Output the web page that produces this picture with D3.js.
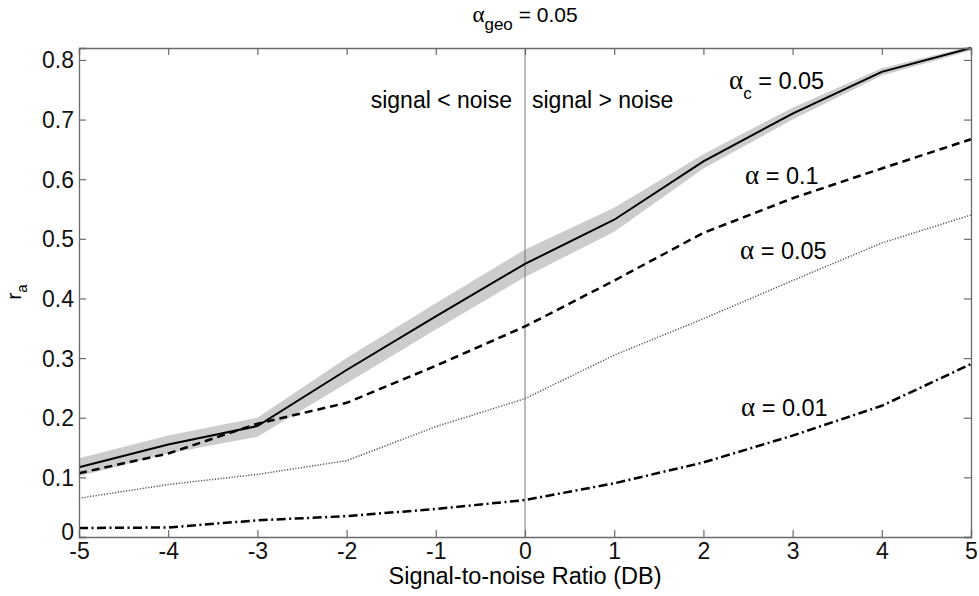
<!DOCTYPE html>
<html>
<head>
<meta charset="utf-8">
<script src="https://cdn.jsdelivr.net/npm/d3@7"></script>
<style>
  body { margin: 0; background: #fff; }
  svg { display: block; font-family: "Liberation Sans", Arial, sans-serif; }
  .greek { font-family: "Liberation Serif", "DejaVu Serif", serif; }
</style>
</head>
<body>
<script>
// data
const snr = [-5, -4, -3, -2, -1, 0, 1, 2, 3, 4, 5]
const alphaC = [0.117, 0.155, 0.186, 0.28, 0.37, 0.458, 0.532, 0.63, 0.71, 0.78, 0.82]
const bandUpper = [0.132, 0.17, 0.2, 0.3, 0.392, 0.482, 0.552, 0.642, 0.72, 0.786, 0.823]
const bandLower = [0.102, 0.14, 0.168, 0.258, 0.348, 0.436, 0.512, 0.618, 0.7, 0.774, 0.816]
const alpha010 = [0.107, 0.14, 0.19, 0.225, 0.287, 0.353, 0.43, 0.51, 0.568, 0.618, 0.667]
const alpha005 = [0.065, 0.088, 0.105, 0.128, 0.185, 0.232, 0.305, 0.366, 0.43, 0.493, 0.54]
const alpha001 = [0.015, 0.016, 0.028, 0.035, 0.047, 0.062, 0.09, 0.125, 0.17, 0.22, 0.29]
const xTicks = [-5, -4, -3, -2, -1, 0, 1, 2, 3, 4, 5]
const yTicks = [0, 0.1, 0.2, 0.3, 0.4, 0.5, 0.6, 0.7, 0.8]

const width = 979, height = 596
const margin = {left: 79, right: 8, top: 48, bottom: 59}

const svg = d3.select('body').append('svg')
  .attr('width', width)
  .attr('height', height)

const x = d3.scaleLinear().domain([-5, 5]).range([margin.left, width - margin.right])
const y = d3.scaleLinear().domain([0, 0.82]).range([height - margin.bottom, margin.top])

const axisColor = '#6a6a6a'

// gray band around the alpha_c line
const area = d3.area()
  .x((d, i) => x(snr[i]))
  .y0((d, i) => y(bandLower[i]))
  .y1((d, i) => y(bandUpper[i]))
svg.append('path')
  .attr('d', area(snr))
  .attr('fill', '#cccccc')

// vertical divider at 0 dB
svg.append('line')
  .attr('x1', x(0)).attr('x2', x(0))
  .attr('y1', y(0.82)).attr('y2', y(0))
  .attr('stroke', '#777').attr('stroke-width', 1)

const line = d3.line().x((d, i) => x(snr[i])).y(d => y(d))

const series = [
  {vals: alpha001, dash: '9,3.5,2,3.5', w: 2.5, col: '#000'},
  {vals: alpha005, dash: '1.2,1.6', w: 1.5, col: '#555'},
  {vals: alpha010, dash: '8,5', w: 2.5, col: '#000'},
  {vals: alphaC, dash: null, w: 2, col: '#000'}
]
series.forEach(s => {
  svg.append('path')
    .attr('d', line(s.vals))
    .attr('fill', 'none')
    .attr('stroke', s.col)
    .attr('stroke-width', s.w)
    .attr('stroke-dasharray', s.dash)
})

// axes box with inward ticks, matlab style
const gx = svg.append('g')
  .attr('transform', `translate(0,${y(0)})`)
  .call(d3.axisBottom(x).tickValues(xTicks).tickSize(-7).tickPadding(6).tickFormat(d => String(d)))
const gxTop = svg.append('g')
  .attr('transform', `translate(0,${y(0.82)})`)
  .call(d3.axisTop(x).tickValues(xTicks).tickSize(-7).tickFormat(''))
const gy = svg.append('g')
  .attr('transform', `translate(${x(-5)},0)`)
  .call(d3.axisLeft(y).tickValues(yTicks).tickSize(-7).tickPadding(5).tickFormat(d => d === 0 ? '0' : d3.format('.1f')(d)))
const gyRight = svg.append('g')
  .attr('transform', `translate(${x(5)},0)`)
  .call(d3.axisRight(y).tickValues(yTicks).tickSize(-7).tickFormat(''))

;[gx, gxTop, gy, gyRight].forEach(g => {
  g.select('.domain').attr('stroke', axisColor).attr('stroke-width', 1.3)
  g.selectAll('.tick line').attr('stroke', axisColor).attr('stroke-width', 1.2)
  g.selectAll('.tick text').attr('fill', '#111')
    .style('font-family', '"Liberation Sans", Arial, sans-serif')
    .style('font-size', '23px')
})
gy.selectAll('.tick text').attr('dy', d => d === 0 ? '0.1em' : '0.35em')

// axis labels
svg.append('text')
  .attr('x', x(0)).attr('y', 584)
  .attr('text-anchor', 'middle')
  .style('font-size', '23.5px')
  .text('Signal-to-noise Ratio (DB)')

const yl = svg.append('text')
  .attr('transform', `translate(21,292) rotate(-90)`)
  .attr('text-anchor', 'middle')
  .style('font-size', '21px')
yl.append('tspan').text('r')
yl.append('tspan').attr('dy', 6).style('font-size', '15px').text('a')

// title
const title = svg.append('text')
  .attr('x', x(0)).attr('y', 22)
  .attr('text-anchor', 'middle')
  .style('font-size', '21px')
title.append('tspan').attr('class', 'greek').style('font-size', '23px').text('α')
title.append('tspan').attr('dy', 8).style('font-size', '17px').text('geo')
title.append('tspan').attr('dy', -8).text(' = 0.05')

// region labels
svg.append('text')
  .attr('x', x(0) - 13).attr('y', 108)
  .attr('text-anchor', 'end')
  .style('font-size', '23px')
  .text('signal < noise')
svg.append('text')
  .attr('x', x(0) + 7).attr('y', 108)
  .style('font-size', '23px')
  .text('signal > noise')

// curve labels
function alphaLabel(xp, yp, sub, rest) {
  const t = svg.append('text').attr('x', xp).attr('y', yp).style('font-size', '23.5px')
  t.append('tspan').attr('class', 'greek').style('font-size', '27px').text('α')
  if (sub) {
    t.append('tspan').attr('dy', 10).style('font-size', '17px').text(sub)
    t.append('tspan').attr('dy', -10).text(' = ' + rest)
  } else {
    t.append('tspan').text(' = ' + rest)
  }
}
alphaLabel(729, 89, 'c', '0.05')
alphaLabel(745, 184, null, '0.1')
alphaLabel(740, 259, null, '0.05')
alphaLabel(741, 416, null, '0.01')
</script>
</body>
</html>
